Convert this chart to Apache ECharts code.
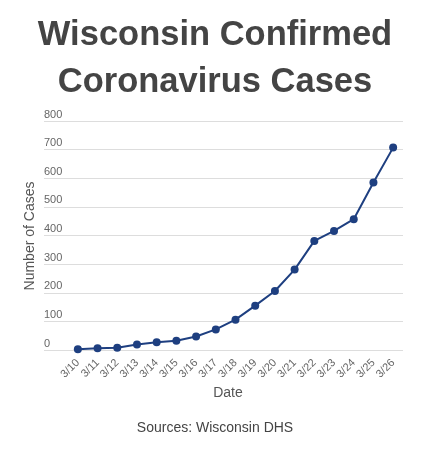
<!DOCTYPE html>
<html>
<head>
<meta charset="utf-8">
<script src="https://cdn.jsdelivr.net/npm/echarts@6/dist/echarts.min.js"></script>
<style>html,body{margin:0;padding:0;background:#fff}#c{width:430px;height:460px}</style>
</head>
<body>
<div id="c"></div>
<script>
const titleText = 'Wisconsin Confirmed\nCoronavirus Cases';
const dates = ['3/10','3/11','3/12','3/13','3/14','3/15','3/16','3/17','3/18','3/19','3/20','3/21','3/22','3/23','3/24','3/25','3/26'];
const cases = [3, 6, 8, 19, 27, 32, 47, 72, 106, 155, 206, 281, 381, 416, 457, 585, 707];
const yMin = 0, yMax = 800, yStep = 100;
const xName = 'Date';
const yName = 'Number of Cases';
const source = 'Sources: Wisconsin DHS';

const FONT = '"Liberation Sans", Arial, sans-serif';
const chart = echarts.init(document.getElementById('c'));
chart.setOption({
  animation: false,
  textStyle: { fontFamily: FONT },
  title: [
    { text: titleText, left: 'center', top: 7, padding: [5, 8, 5, 0],
      textStyle: { fontFamily: FONT, fontSize: 34.5, fontWeight: 'bold', color: '#444', lineHeight: 47 } },
    { text: source, left: 'center', top: 416,
      textStyle: { fontFamily: FONT, fontSize: 14, fontWeight: 'normal', color: '#444' } }
  ],
  graphic: [
    { type: 'text', x: 30, y: 236, rotation: Math.PI / 2,
      style: { text: yName, fill: '#555', font: '14px ' + FONT, textAlign: 'center', textVerticalAlign: 'middle' } }
  ],
  grid: [
    { left: 44, right: 27, top: 121, bottom: 110 },
    { left: 68, right: 27, top: 121, bottom: 110 }
  ],
  xAxis: [
    { gridIndex: 0, type: 'category', data: dates, show: false },
    { gridIndex: 1, type: 'category', data: dates, boundaryGap: true,
      axisLine: { show: false }, axisTick: { show: false },
      axisLabel: { rotate: 45, color: '#666', fontSize: 11, margin: 11, interval: 0 },
      name: xName, nameLocation: 'middle', nameGap: 36,
      nameTextStyle: { color: '#555', fontSize: 14, padding: [0, 15, 0, 0] } }
  ],
  yAxis: [
    { gridIndex: 0, type: 'value', min: yMin, max: yMax, interval: yStep,
      axisLine: { show: false }, axisTick: { show: false },
      axisLabel: { inside: true, margin: 0, verticalAlign: 'bottom', color: '#666', fontSize: 11, padding: [0, 0, 1, 0] },
      splitLine: { lineStyle: { color: '#ddd', width: 1 } } },
    { gridIndex: 1, type: 'value', min: yMin, max: yMax, interval: yStep, show: false,
      splitLine: { show: false } }
  ],
  series: [{
    type: 'line', xAxisIndex: 1, yAxisIndex: 1, data: cases,
    symbol: 'circle', symbolSize: 8,
    lineStyle: { color: '#1e3f80', width: 2 },
    itemStyle: { color: '#1e3f80' }
  }]
});
</script>
</body>
</html>
